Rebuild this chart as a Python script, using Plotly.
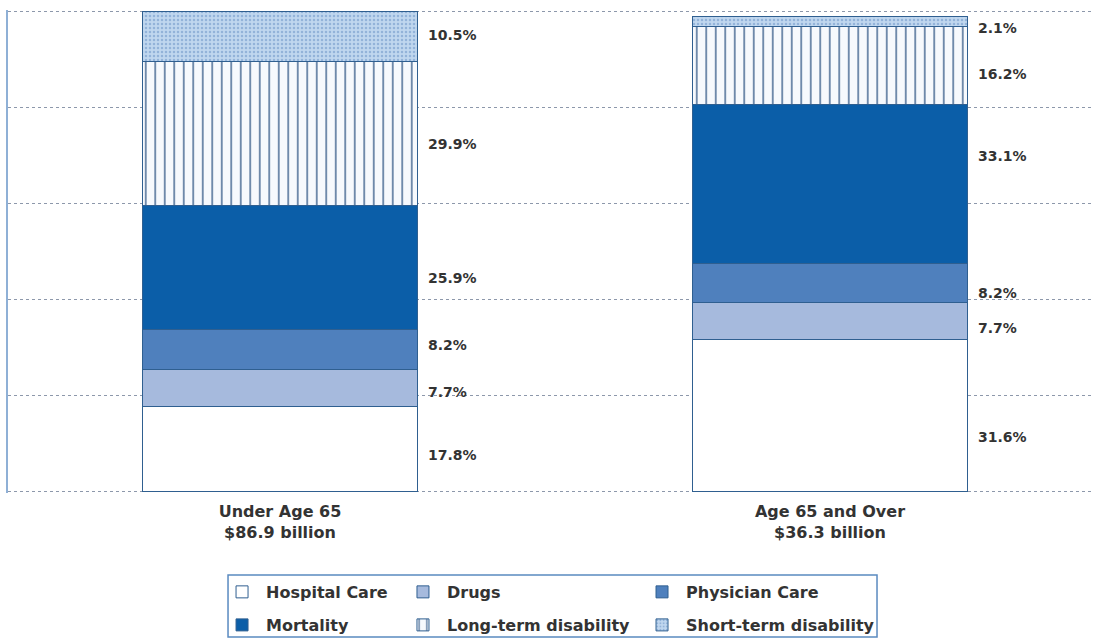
import plotly.graph_objects as go

groups = ["Under Age 65<br>$86.9 billion", "Age 65 and Over<br>$36.3 billion"]
series_names = ["Hospital Care", "Drugs", "Physician Care", "Mortality",
                "Long-term disability", "Short-term disability"]
hospital = [17.8, 31.6]
drugs = [7.7, 7.7]
physician = [8.2, 8.2]
mortality = [25.9, 33.1]
long_term = [29.9, 16.2]
short_term = [10.5, 2.1]
series_values = [hospital, drugs, physician, mortality, long_term, short_term]

FONT = "DejaVu Sans"
TXT = "#333333"

# styling
fills = ["#ffffff", "#a6badd", "#4f80bd", "#0b5ea8", "#f6f9fd", "#b9d2ec"]
patterns = [dict(shape=""), dict(shape=""), dict(shape=""), dict(shape=""),
            dict(shape="|", size=9.5, solidity=0.17, fgcolor="#56769c", bgcolor="#f6f9fd", fillmode="replace"),
            dict(shape=".", size=4, solidity=0.3, fgcolor="#93b3d9", bgcolor="#c0d7ef", fillmode="replace")]
# label vertical nudges (in % units) per series, per group
label_nudge = [[-1.2, -4.4], [-0.9, -1.4], [1.0, -2.0], [-2.1, 5.8], [-2.2, -1.7], [0.4, -1.3]]
# legend placement in container coords: (x, y)
legend_pos = [(0.1993, 0.0736), (0.3647, 0.0736), (0.5832, 0.0736),
              (0.1993, 0.0219), (0.3647, 0.0219), (0.5832, 0.0219)]

xpos = [0, 1]
fig = go.Figure()
for i, (name, vals) in enumerate(zip(series_names, series_values)):
    lg = "legend" if i == 0 else f"legend{i+1}"
    fig.add_trace(go.Bar(
        x=xpos, y=vals, name=name, width=0.5,
        marker=dict(color=fills[i], pattern=patterns[i],
                    line=dict(color="#2f5f90", width=1)),
        legend=lg, hoverinfo="skip"))

# labels at segment centers
annotations = []
for g in range(2):
    base = 0
    for i, vals in enumerate(series_values):
        v = vals[g]
        yc = base + v / 2 + label_nudge[i][g]
        annotations.append(dict(x=xpos[g] + 0.265, y=yc, xref="x", yref="y",
                                text=f"{v}%", showarrow=False,
                                xanchor="left", yanchor="middle",
                                font=dict(size=14, color=TXT, family=FONT, weight="bold")))
        base += v

layout_legends = {}
for i in range(6):
    key = "legend" if i == 0 else f"legend{i+1}"
    layout_legends[key] = dict(x=legend_pos[i][0], y=legend_pos[i][1], xref="container", yref="container",
                               xanchor="left", yanchor="middle", orientation="v",
                               itemwidth=38,
                               bgcolor="rgba(0,0,0,0)", borderwidth=0,
                               font=dict(size=16, color=TXT, family=FONT, weight="bold"))

fig.update_layout(
    width=1094, height=639,
    margin=dict(l=8, r=0, t=10, b=146, autoexpand=False),
    barmode="stack",
    plot_bgcolor="white", paper_bgcolor="white",
    showlegend=True,
    annotations=annotations,
    font=dict(family=FONT, size=14, color=TXT),
    xaxis=dict(range=[-0.4945, 1.48], tickvals=xpos,
               ticktext=groups,
               tickfont=dict(size=16, color=TXT, family=FONT, weight="bold"),
               ticklabelstandoff=7,
               showgrid=False, zeroline=False, showline=False, ticks=""),
    yaxis=dict(range=[-0.3, 100.3], tickvals=[0, 20, 40, 60, 80, 100], showticklabels=False,
               showgrid=True, gridcolor="#8d98ab", griddash="dot", gridwidth=1,
               zeroline=False, showline=True, linecolor="#8fb0d6", linewidth=2),
    shapes=[dict(type="rect", xref="paper", yref="paper",
                 x0=0.2026, x1=0.8002, y0=-0.2981, y1=-0.1698,
                 line=dict(color="#5a8ac0", width=1.5), fillcolor="rgba(0,0,0,0)")],
    **layout_legends,
)

fig.write_html("out.html", config={"displayModeBar": False},
               post_script="document.body.style.margin='0';document.body.style.overflow='hidden';")
